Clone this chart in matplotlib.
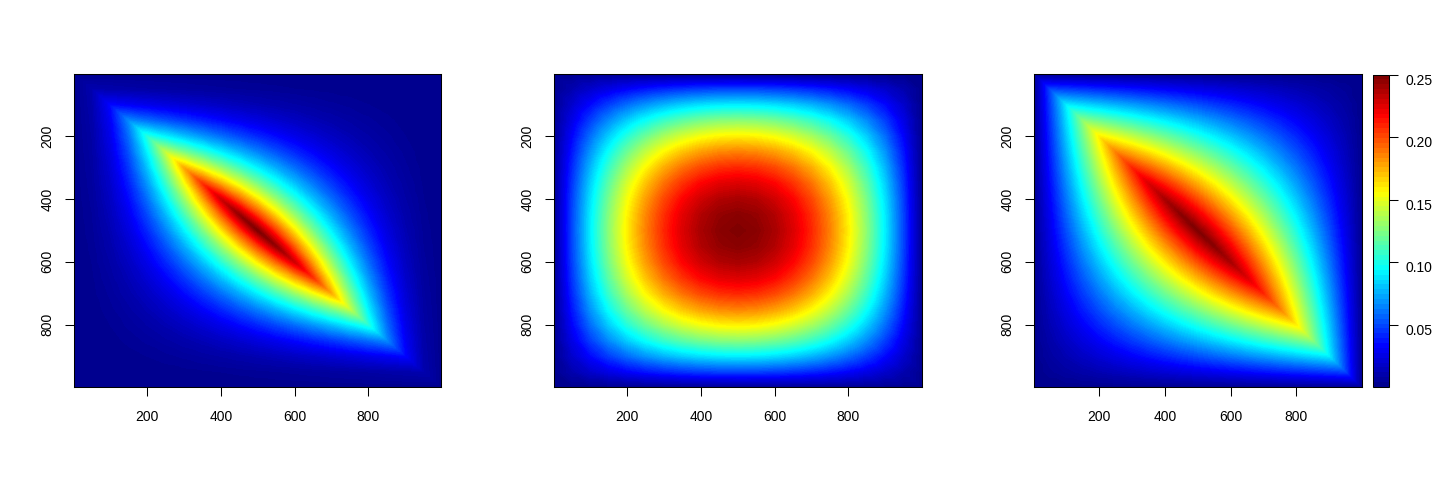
import numpy as np
import matplotlib
matplotlib.use("Agg")
import matplotlib.pyplot as plt
import matplotlib.tri as mtri
from matplotlib.cm import ScalarMappable
from matplotlib.colors import LinearSegmentedColormap, Normalize
from matplotlib.transforms import ScaledTranslation

plt.rcParams['font.family'] = ['Liberation Sans', 'DejaVu Sans']

# colour read at every 50 units, upper triangle only, the pictures are symmetric
grid = [0, 50, 100, 150, 200, 250, 300, 350, 400, 450, 500, 550, 600, 650, 700, 750, 800, 850, 900, 950, 1000]
xticks = [200, 400, 600, 800]
yticks = [200, 400, 600, 800]
bar_ticks = [0.05, 0.10, 0.15, 0.20, 0.25]
zlim = (0, 0.2505)

left_rows = [
    [0] * 21,
    [.0090, .0081, .0072, .0064, .0056, .0049, .0042, .0036, .0030, .0025, .0020, .0016, .0012, .0009, .0006, .0004, .0002, .0001, 0, 0],
    [.0324, .0289, .0256, .0225, .0196, .0169, .0144, .0121, .01, .0081, .0064, .0049, .0036, .0025, .0016, .0009, .0004, .0001, 0],
    [.0650, .0576, .0506, .0441, .0380, .0324, .0272, .0225, .0182, .0144, .0110, .0081, .0056, .0036, .0020, .0009, .0002, 0],
    [.1024, .09, .0784, .0676, .0576, .0484, .04, .0324, .0256, .0196, .0144, .01, .0064, .0036, .0016, .0004, 0],
    [.1406, .1225, .1056, .09, .0756, .0625, .0506, .04, .0306, .0225, .0156, .01, .0056, .0025, .0006, 0],
    [.1764, .1521, .1296, .1089, .09, .0729, .0576, .0441, .0324, .0225, .0144, .0081, .0036, .0009, 0],
    [.2070, .1764, .1482, .1225, .0992, .0784, .0600, .0441, .0306, .0196, .0110, .0049, .0012, 0],
    [.2304, .1936, .16, .1296, .1024, .0784, .0576, .04, .0256, .0144, .0064, .0016, 0],
    [.2450, .2025, .1640, .1296, .0992, .0729, .0506, .0324, .0182, .0081, .0020, 0],
    [.25, .2025, .16, .1225, .09, .0625, .04, .0225, .01, .0025, 0],
    [.2450, .1936, .1482, .1089, .0756, .0484, .0272, .0121, .0030, 0],
    [.2304, .1764, .1296, .09, .0576, .0324, .0144, .0036, 0],
    [.2070, .1521, .1056, .0676, .0380, .0169, .0042, 0],
    [.1764, .1225, .0784, .0441, .0196, .0049, 0],
    [.1406, .09, .0506, .0225, .0056, 0],
    [.1024, .0576, .0256, .0064, 0],
    [.0650, .0289, .0072, 0],
    [.0324, .0081, 0],
    [.0090, 0],
    [0],
]

middle_rows = [
    [0] * 21,
    [.0090, .0171, .0242, .0304, .0356, .0399, .0432, .0456, .0470, .0475, .0470, .0456, .0432, .0399, .0356, .0304, .0242, .0171, .0090, 0],
    [.0324, .0459, .0576, .0675, .0756, .0819, .0864, .0891, .09, .0891, .0864, .0819, .0756, .0675, .0576, .0459, .0324, .0171, 0],
    [.0650, .0816, .0956, .1071, .1160, .1224, .1262, .1275, .1262, .1224, .1160, .1071, .0956, .0816, .0650, .0459, .0242, 0],
    [.1024, .12, .1344, .1456, .1536, .1584, .16, .1584, .1536, .1456, .1344, .12, .1024, .0816, .0576, .0304, 0],
    [.1406, .1575, .1706, .18, .1856, .1875, .1856, .18, .1706, .1575, .1406, .12, .0956, .0675, .0356, 0],
    [.1764, .1911, .2016, .2079, .21, .2079, .2016, .1911, .1764, .1575, .1344, .1071, .0756, .0399, 0],
    [.2070, .2184, .2252, .2275, .2252, .2184, .2070, .1911, .1706, .1456, .1160, .0819, .0432, 0],
    [.2304, .2376, .24, .2376, .2304, .2184, .2016, .18, .1536, .1224, .0864, .0456, 0],
    [.2450, .2475, .2450, .2376, .2252, .2079, .1856, .1584, .1262, .0891, .0470, 0],
    [.25, .2475, .24, .2275, .21, .1875, .16, .1275, .09, .0475, 0],
    [.2450, .2376, .2252, .2079, .1856, .1584, .1262, .0891, .0470, 0],
    [.2304, .2184, .2016, .18, .1536, .1224, .0864, .0456, 0],
    [.2070, .1911, .1706, .1456, .1160, .0819, .0432, 0],
    [.1764, .1575, .1344, .1071, .0756, .0399, 0],
    [.1406, .12, .0956, .0675, .0356, 0],
    [.1024, .0816, .0576, .0304, 0],
    [.0650, .0459, .0242, 0],
    [.0324, .0171, 0],
    [.0090, 0],
    [0],
]

right_rows = [
    [0] * 21,
    [.0475, .045, .0425, .04, .0375, .035, .0325, .03, .0275, .025, .0225, .02, .0175, .015, .0125, .01, .0075, .005, .0025, 0],
    [.09, .085, .08, .075, .07, .065, .06, .055, .05, .045, .04, .035, .03, .025, .02, .015, .01, .005, 0],
    [.1275, .12, .1125, .105, .0975, .09, .0825, .075, .0675, .06, .0525, .045, .0375, .03, .0225, .015, .0075, 0],
    [.16, .15, .14, .13, .12, .11, .10, .09, .08, .07, .06, .05, .04, .03, .02, .01, 0],
    [.1875, .175, .1625, .15, .1375, .125, .1125, .10, .0875, .075, .0625, .05, .0375, .025, .0125, 0],
    [.21, .195, .18, .165, .15, .135, .12, .105, .09, .075, .06, .045, .03, .015, 0],
    [.2275, .21, .1925, .175, .1575, .14, .1225, .105, .0875, .07, .0525, .035, .0175, 0],
    [.24, .22, .20, .18, .16, .14, .12, .10, .08, .06, .04, .02, 0],
    [.2475, .225, .2025, .18, .1575, .135, .1125, .09, .0675, .045, .0225, 0],
    [.25, .225, .20, .175, .15, .125, .10, .075, .05, .025, 0],
    [.2475, .22, .1925, .165, .1375, .11, .0825, .055, .0275, 0],
    [.24, .21, .18, .15, .12, .09, .06, .03, 0],
    [.2275, .195, .1625, .13, .0975, .065, .0325, 0],
    [.21, .175, .14, .105, .07, .035, 0],
    [.1875, .15, .1125, .075, .0375, 0],
    [.16, .12, .08, .04, 0],
    [.1275, .085, .0425, 0],
    [.09, .045, 0],
    [.0475, 0],
    [0],
]


def fullMatrix(rows):
    z = np.zeros((len(rows), len(rows)))
    for i, row in enumerate(rows):
        z[i, i:] = row
        z[i:, i] = row
    return z


# triangles split along the main diagonal so the ridge stays sharp
n = len(grid)
X, Y = np.meshgrid(grid, grid)
triangles = []
for i in range(n - 1):
    for j in range(n - 1):
        a = i * n + j
        triangles.append([a, a + 1, a + n + 1])
        triangles.append([a, a + n + 1, a + n])
tri = mtri.Triangulation(X.ravel(), Y.ravel(), triangles)

cmap = LinearSegmentedColormap.from_list('tim', [
    (0, '#00008F'), (0.125, '#0000FF'), (0.375, '#00FFFF'),
    (0.625, '#FFFF00'), (0.875, '#FF0000'), (1, '#800000')], N=256)
levels = np.linspace(zlim[0], zlim[1], 161)

W, H = 1440.0, 480.0
fig = plt.figure(figsize=(14.4, 4.8), dpi=100, facecolor='white')


def addAxes(x0, x1, y0, y1):
    return fig.add_axes([x0 / W, 1 - y1 / H, (x1 - x0) / W, (y1 - y0) / H])


boxes = [(74, 441.5), (554, 921.5), (1034, 1361.5)]
for (x0, x1), rows in zip(boxes, [left_rows, middle_rows, right_rows]):
    ax = addAxes(x0, x1, 74, 387)
    ax.tricontourf(tri, fullMatrix(rows).ravel(), levels=levels, cmap=cmap)
    ax.set_xlim(1, 999)
    ax.set_ylim(999, 1)
    ax.set_xticks(xticks)
    ax.set_yticks(yticks)
    ax.tick_params(axis='x', length=6.5, width=0.75, pad=10, labelsize=10)
    ax.tick_params(axis='y', length=6.5, width=0.75, pad=7.5, labelsize=10)
    for lab in ax.get_yticklabels():
        lab.set_rotation(90)
        lab.set_va('center')
    for sp in ax.spines.values():
        sp.set_linewidth(0.75)

# the key itself has coarser steps than the maps
cax = addAxes(1372.5, 1388.5, 74.5, 387)
sm = ScalarMappable(Normalize(zlim[0], zlim[1]), cmap.resampled(64))
cb = fig.colorbar(sm, cax=cax, ticks=bar_ticks, format='%.2f')
cb.minorticks_off()
cb.ax.tick_params(length=6.5, width=0.75, pad=6, labelsize=10)
cb.outline.set_linewidth(0.75)
# labels of the key sit a little below their ticks
for lab in cb.ax.get_yticklabels():
    lab.set_transform(lab.get_transform() + ScaledTranslation(0, -4.5 / 100, fig.dpi_scale_trans))

fig.savefig('out.png', dpi=100)
